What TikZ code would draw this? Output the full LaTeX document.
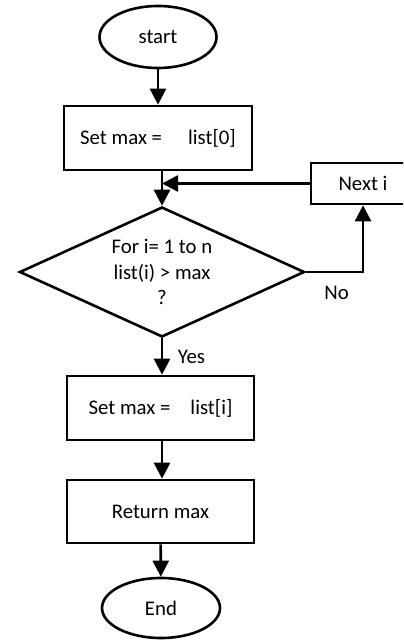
\documentclass[tikz,border=0pt]{standalone}
\usepackage{fontspec}
\setmainfont{Carlito}
\usetikzlibrary{arrows.meta,shapes.geometric}

\begin{document}
\begin{tikzpicture}[x=0.5pt, y=-0.5pt, >={Triangle[length=8pt,width=8pt]},
  font=\fontsize{10.4}{12.4}\selectfont, line width=1.3pt,
  terminal/.style={draw, ellipse, inner sep=0pt},
  process/.style={draw, rectangle, inner sep=0pt},
  decision/.style={draw, diamond, aspect=2.2, inner sep=0pt, align=center,
    minimum width=142.5pt, minimum height=65pt,
    font=\fontsize{10.4}{12.8}\selectfont}]
  \useasboundingbox (0,0) rectangle (403,640);
  \clip (0,0) rectangle (403,640);
  \node[terminal, minimum width=58.5pt, minimum height=31pt] (start) at (158,37) {start};
  \node[process, minimum width=94pt, minimum height=32pt] (init) at (158,138)
    {Set max =\hspace{13pt}list[0]};
  \node[decision] (test) at (162,272) {For i= 1 to n\\list(i) > max\\?};
  \node[process, minimum width=52pt, minimum height=20.5pt] (next) at (363,183.5) {Next i};
  \node[process, minimum width=93.5pt, minimum height=32pt] (update) at (160.5,408)
    {Set max =\hspace{10pt}list[i]};
  \node[process, minimum width=93.5pt, minimum height=31.5pt] (ret) at (160.5,511.5) {Return max};
  \node[terminal, minimum width=59pt, minimum height=30pt] (stop) at (161,608) {End};
  \draw[->] (start) -- (init);
  \draw[->] (test.north |- init.south) -- (test.north);
  \draw[->] (next.west) -- (next.west -| test.north);
  \draw[->] (test.east) -| node[pos=0.27, below=3pt] {No} (next.south);
  \draw[->] (test.south) -- node[right=4pt] {Yes} (test.south |- update.north);
  \draw[->] (update.south -| test.south) -- (ret.north -| test.south);
  \draw[->] (ret) -- (stop);
\end{tikzpicture}
\end{document}
